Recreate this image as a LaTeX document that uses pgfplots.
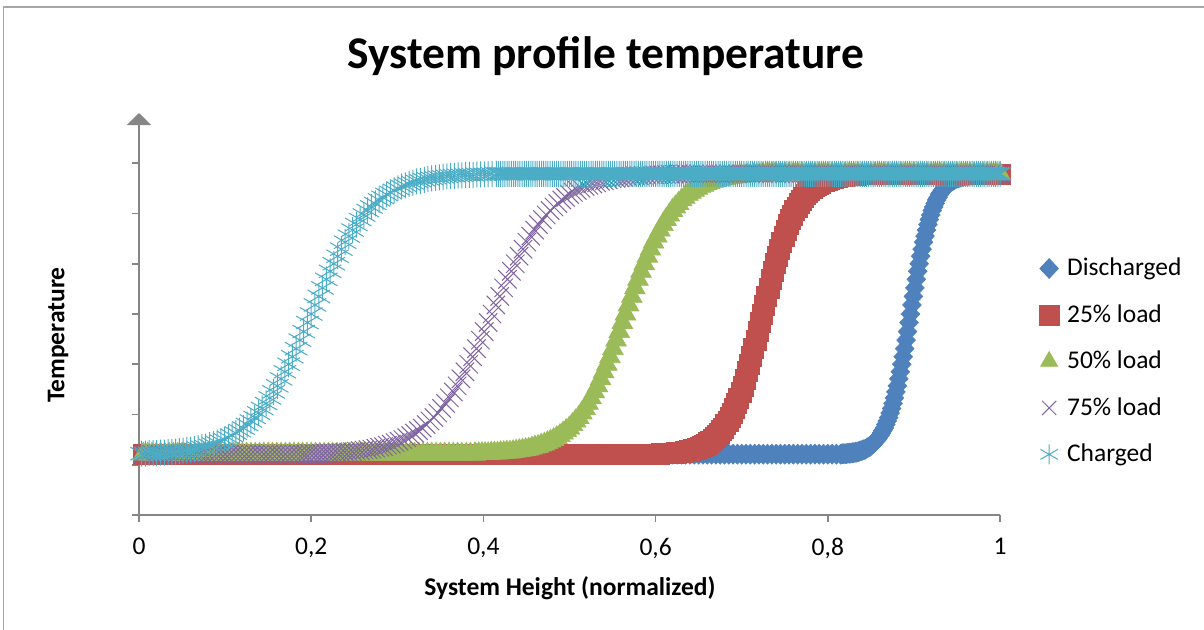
\documentclass[border=0pt]{standalone}
\usepackage{fontspec}
\setmainfont{Carlito}
\usepackage{pgfplots}
\pgfplotsset{compat=1.18}
\usepackage{pgfplotstable}
\usetikzlibrary{arrows.meta}

\definecolor{cD}{HTML}{4F81BD}
\definecolor{cR}{HTML}{C0504D}
\definecolor{cG}{HTML}{9BBB59}
\definecolor{cP}{HTML}{8064A2}
\definecolor{cC}{HTML}{4BACC6}
\definecolor{axgray}{HTML}{868686}

% transition part of each profile: temperature (y) and height for each series
\pgfplotstableread{
y xD xR xG xP xC
1.21 0.8150 0.604 0.3910 0.194 -0.0100
1.22 0.8184 0.609 0.3983 0.203 -0.0013
1.22 0.8218 0.614 0.4055 0.212 0.0075
1.23 0.8251 0.619 0.4128 0.221 0.0163
1.24 0.8285 0.624 0.4200 0.230 0.0250
1.25 0.8319 0.629 0.4273 0.239 0.0338
1.26 0.8353 0.634 0.4345 0.248 0.0425
1.28 0.8386 0.639 0.4418 0.257 0.0513
1.30 0.8420 0.644 0.4490 0.266 0.0600
1.33 0.8454 0.649 0.4563 0.275 0.0688
1.36 0.8488 0.654 0.4635 0.284 0.0775
1.41 0.8521 0.659 0.4708 0.293 0.0863
1.47 0.8555 0.664 0.4780 0.302 0.0950
1.54 0.8589 0.669 0.4853 0.311 0.1038
1.63 0.8623 0.674 0.4925 0.320 0.1125
1.73 0.8656 0.679 0.4998 0.329 0.1213
1.87 0.8690 0.684 0.5070 0.338 0.1300
2.03 0.8724 0.689 0.5143 0.347 0.1388
2.22 0.8758 0.694 0.5215 0.356 0.1475
2.45 0.8791 0.699 0.5288 0.365 0.1563
2.71 0.8825 0.704 0.5360 0.374 0.1650
3.00 0.8859 0.709 0.5433 0.383 0.1738
3.31 0.8893 0.714 0.5505 0.392 0.1825
3.65 0.8926 0.719 0.5578 0.401 0.1913
4.00 0.8960 0.724 0.5650 0.410 0.2000
4.35 0.8994 0.729 0.5723 0.419 0.2088
4.69 0.9028 0.734 0.5795 0.428 0.2175
5.00 0.9061 0.739 0.5868 0.437 0.2263
5.29 0.9095 0.744 0.5940 0.446 0.2350
5.55 0.9129 0.749 0.6013 0.455 0.2438
5.78 0.9163 0.754 0.6085 0.464 0.2525
5.97 0.9196 0.759 0.6158 0.473 0.2613
6.13 0.9230 0.764 0.6230 0.482 0.2700
6.27 0.9264 0.769 0.6303 0.491 0.2788
6.38 0.9298 0.774 0.6375 0.500 0.2875
6.46 0.9331 0.779 0.6448 0.509 0.2963
6.54 0.9365 0.784 0.6520 0.518 0.3050
6.59 0.9399 0.789 0.6593 0.527 0.3138
6.64 0.9433 0.794 0.6665 0.536 0.3225
6.67 0.9466 0.799 0.6738 0.545 0.3313
6.70 0.9500 0.804 0.6810 0.554 0.3400
6.72 0.9534 0.809 0.6883 0.563 0.3488
6.74 0.9568 0.814 0.6955 0.572 0.3575
6.75 0.9601 0.819 0.7028 0.581 0.3663
6.76 0.9635 0.824 0.7100 0.590 0.3750
6.77 0.9669 0.829 0.7173 0.599 0.3838
6.78 0.9703 0.834 0.7245 0.608 0.3925
6.78 0.9736 0.839 0.7318 0.617 0.4013
6.79 0.9770 0.844 0.7390 0.626 0.4100
}\trans

% intermediate samples of the same transitions
\pgfplotstableread{
y xD xR xG xP xC
1.22 0.8167 0.6065 0.3946 0.1985 -0.0056
1.22 0.8201 0.6115 0.4019 0.2075 0.0031
1.23 0.8234 0.6165 0.4091 0.2165 0.0119
1.23 0.8268 0.6215 0.4164 0.2255 0.0206
1.24 0.8302 0.6265 0.4236 0.2345 0.0294
1.25 0.8336 0.6315 0.4309 0.2435 0.0381
1.27 0.8369 0.6365 0.4381 0.2525 0.0469
1.29 0.8403 0.6415 0.4454 0.2615 0.0556
1.31 0.8437 0.6465 0.4526 0.2705 0.0644
1.35 0.8471 0.6515 0.4599 0.2795 0.0731
1.39 0.8504 0.6565 0.4671 0.2885 0.0819
1.44 0.8538 0.6615 0.4744 0.2975 0.0906
1.50 0.8572 0.6665 0.4816 0.3065 0.0994
1.58 0.8606 0.6715 0.4889 0.3155 0.1081
1.68 0.8639 0.6765 0.4961 0.3245 0.1169
1.80 0.8673 0.6815 0.5034 0.3335 0.1256
1.94 0.8707 0.6865 0.5106 0.3425 0.1344
2.12 0.8741 0.6915 0.5179 0.3515 0.1431
2.33 0.8774 0.6965 0.5251 0.3605 0.1519
2.57 0.8808 0.7015 0.5324 0.3695 0.1606
2.85 0.8842 0.7065 0.5396 0.3785 0.1694
3.15 0.8876 0.7115 0.5469 0.3875 0.1781
3.48 0.8909 0.7165 0.5541 0.3965 0.1869
3.83 0.8943 0.7215 0.5614 0.4055 0.1956
4.18 0.8977 0.7265 0.5686 0.4145 0.2044
4.52 0.9011 0.7315 0.5759 0.4235 0.2131
4.85 0.9044 0.7365 0.5831 0.4325 0.2219
5.15 0.9078 0.7415 0.5904 0.4415 0.2306
5.43 0.9112 0.7465 0.5976 0.4505 0.2394
5.67 0.9146 0.7515 0.6049 0.4595 0.2481
5.88 0.9179 0.7565 0.6121 0.4685 0.2569
6.06 0.9213 0.7615 0.6194 0.4775 0.2656
6.20 0.9247 0.7665 0.6266 0.4865 0.2744
6.32 0.9281 0.7715 0.6339 0.4955 0.2831
6.42 0.9314 0.7765 0.6411 0.5045 0.2919
6.50 0.9348 0.7815 0.6484 0.5135 0.3006
6.56 0.9382 0.7865 0.6556 0.5225 0.3094
6.61 0.9416 0.7915 0.6629 0.5315 0.3181
6.65 0.9449 0.7965 0.6701 0.5405 0.3269
6.69 0.9483 0.8015 0.6774 0.5495 0.3356
6.71 0.9517 0.8065 0.6846 0.5585 0.3444
6.73 0.9551 0.8115 0.6919 0.5675 0.3531
6.75 0.9584 0.8165 0.6991 0.5765 0.3619
6.76 0.9618 0.8215 0.7064 0.5855 0.3706
6.77 0.9652 0.8265 0.7136 0.5945 0.3794
6.77 0.9686 0.8315 0.7209 0.6035 0.3881
6.78 0.9719 0.8365 0.7281 0.6125 0.3969
6.78 0.9753 0.8415 0.7354 0.6215 0.4056
}\transB

% flat parts (cold and hot plateau), sampled every 0.005
\pgfplotstableread{
x lo hi
0.005 1.21 6.79
0.010 1.21 6.79
0.015 1.21 6.79
0.020 1.21 6.79
0.025 1.21 6.79
0.030 1.21 6.79
0.035 1.21 6.79
0.040 1.21 6.79
0.045 1.21 6.79
0.050 1.21 6.79
0.055 1.21 6.79
0.060 1.21 6.79
0.065 1.21 6.79
0.070 1.21 6.79
0.075 1.21 6.79
0.080 1.21 6.79
0.085 1.21 6.79
0.090 1.21 6.79
0.095 1.21 6.79
0.100 1.21 6.79
0.105 1.21 6.79
0.110 1.21 6.79
0.115 1.21 6.79
0.120 1.21 6.79
0.125 1.21 6.79
0.130 1.21 6.79
0.135 1.21 6.79
0.140 1.21 6.79
0.145 1.21 6.79
0.150 1.21 6.79
0.155 1.21 6.79
0.160 1.21 6.79
0.165 1.21 6.79
0.170 1.21 6.79
0.175 1.21 6.79
0.180 1.21 6.79
0.185 1.21 6.79
0.190 1.21 6.79
0.195 1.21 6.79
0.200 1.21 6.79
0.205 1.21 6.79
0.210 1.21 6.79
0.215 1.21 6.79
0.220 1.21 6.79
0.225 1.21 6.79
0.230 1.21 6.79
0.235 1.21 6.79
0.240 1.21 6.79
0.245 1.21 6.79
0.250 1.21 6.79
0.255 1.21 6.79
0.260 1.21 6.79
0.265 1.21 6.79
0.270 1.21 6.79
0.275 1.21 6.79
0.280 1.21 6.79
0.285 1.21 6.79
0.290 1.21 6.79
0.295 1.21 6.79
0.300 1.21 6.79
0.305 1.21 6.79
0.310 1.21 6.79
0.315 1.21 6.79
0.320 1.21 6.79
0.325 1.21 6.79
0.330 1.21 6.79
0.335 1.21 6.79
0.340 1.21 6.79
0.345 1.21 6.79
0.350 1.21 6.79
0.355 1.21 6.79
0.360 1.21 6.79
0.365 1.21 6.79
0.370 1.21 6.79
0.375 1.21 6.79
0.380 1.21 6.79
0.385 1.21 6.79
0.390 1.21 6.79
0.395 1.21 6.79
0.400 1.21 6.79
0.405 1.21 6.79
0.410 1.21 6.79
0.415 1.21 6.79
0.420 1.21 6.79
0.425 1.21 6.79
0.430 1.21 6.79
0.435 1.21 6.79
0.440 1.21 6.79
0.445 1.21 6.79
0.450 1.21 6.79
0.455 1.21 6.79
0.460 1.21 6.79
0.465 1.21 6.79
0.470 1.21 6.79
0.475 1.21 6.79
0.480 1.21 6.79
0.485 1.21 6.79
0.490 1.21 6.79
0.495 1.21 6.79
0.500 1.21 6.79
0.505 1.21 6.79
0.510 1.21 6.79
0.515 1.21 6.79
0.520 1.21 6.79
0.525 1.21 6.79
0.530 1.21 6.79
0.535 1.21 6.79
0.540 1.21 6.79
0.545 1.21 6.79
0.550 1.21 6.79
0.555 1.21 6.79
0.560 1.21 6.79
0.565 1.21 6.79
0.570 1.21 6.79
0.575 1.21 6.79
0.580 1.21 6.79
0.585 1.21 6.79
0.590 1.21 6.79
0.595 1.21 6.79
0.600 1.21 6.79
0.605 1.21 6.79
0.610 1.21 6.79
0.615 1.21 6.79
0.620 1.21 6.79
0.625 1.21 6.79
0.630 1.21 6.79
0.635 1.21 6.79
0.640 1.21 6.79
0.645 1.21 6.79
0.650 1.21 6.79
0.655 1.21 6.79
0.660 1.21 6.79
0.665 1.21 6.79
0.670 1.21 6.79
0.675 1.21 6.79
0.680 1.21 6.79
0.685 1.21 6.79
0.690 1.21 6.79
0.695 1.21 6.79
0.700 1.21 6.79
0.705 1.21 6.79
0.710 1.21 6.79
0.715 1.21 6.79
0.720 1.21 6.79
0.725 1.21 6.79
0.730 1.21 6.79
0.735 1.21 6.79
0.740 1.21 6.79
0.745 1.21 6.79
0.750 1.21 6.79
0.755 1.21 6.79
0.760 1.21 6.79
0.765 1.21 6.79
0.770 1.21 6.79
0.775 1.21 6.79
0.780 1.21 6.79
0.785 1.21 6.79
0.790 1.21 6.79
0.795 1.21 6.79
0.800 1.21 6.79
0.805 1.21 6.79
0.810 1.21 6.79
0.815 1.21 6.79
0.820 1.21 6.79
0.825 1.21 6.79
0.830 1.21 6.79
0.835 1.21 6.79
0.840 1.21 6.79
0.845 1.21 6.79
0.850 1.21 6.79
0.855 1.21 6.79
0.860 1.21 6.79
0.865 1.21 6.79
0.870 1.21 6.79
0.875 1.21 6.79
0.880 1.21 6.79
0.885 1.21 6.79
0.890 1.21 6.79
0.895 1.21 6.79
0.900 1.21 6.79
0.905 1.21 6.79
0.910 1.21 6.79
0.915 1.21 6.79
0.920 1.21 6.79
0.925 1.21 6.79
0.930 1.21 6.79
0.935 1.21 6.79
0.940 1.21 6.79
0.945 1.21 6.79
0.950 1.21 6.79
0.955 1.21 6.79
0.960 1.21 6.79
0.965 1.21 6.79
0.970 1.21 6.79
0.975 1.21 6.79
0.980 1.21 6.79
0.985 1.21 6.79
0.990 1.21 6.79
0.995 1.21 6.79
1.000 1.21 6.79
}\flat

% extra samples of the charged hot plateau
\pgfplotstableread{
x hi
0.4175 6.79
0.4225 6.79
0.4275 6.79
0.4325 6.79
0.4375 6.79
0.4425 6.79
0.4475 6.79
0.4525 6.79
0.4575 6.79
0.4625 6.79
0.4675 6.79
0.4725 6.79
0.4775 6.79
0.4825 6.79
0.4875 6.79
0.4925 6.79
0.4975 6.79
0.5025 6.79
0.5075 6.79
0.5125 6.79
0.5175 6.79
0.5225 6.79
0.5275 6.79
0.5325 6.79
0.5375 6.79
0.5425 6.79
0.5475 6.79
0.5525 6.79
0.5575 6.79
0.5625 6.79
0.5675 6.79
0.5725 6.79
0.5775 6.79
0.5825 6.79
0.5875 6.79
0.5925 6.79
0.5975 6.79
0.6025 6.79
0.6075 6.79
0.6125 6.79
0.6175 6.79
0.6225 6.79
0.6275 6.79
0.6325 6.79
0.6375 6.79
0.6425 6.79
0.6475 6.79
0.6525 6.79
0.6575 6.79
0.6625 6.79
0.6675 6.79
0.6725 6.79
0.6775 6.79
0.6825 6.79
0.6875 6.79
0.6925 6.79
0.6975 6.79
0.7025 6.79
0.7075 6.79
0.7125 6.79
0.7175 6.79
0.7225 6.79
0.7275 6.79
0.7325 6.79
0.7375 6.79
0.7425 6.79
0.7475 6.79
0.7525 6.79
0.7575 6.79
0.7625 6.79
0.7675 6.79
0.7725 6.79
0.7775 6.79
0.7825 6.79
0.7875 6.79
0.7925 6.79
0.7975 6.79
0.8025 6.79
0.8075 6.79
0.8125 6.79
0.8175 6.79
0.8225 6.79
0.8275 6.79
0.8325 6.79
0.8375 6.79
0.8425 6.79
0.8475 6.79
0.8525 6.79
0.8575 6.79
0.8625 6.79
0.8675 6.79
0.8725 6.79
0.8775 6.79
0.8825 6.79
0.8875 6.79
0.8925 6.79
0.8975 6.79
0.9025 6.79
0.9075 6.79
0.9125 6.79
0.9175 6.79
0.9225 6.79
0.9275 6.79
0.9325 6.79
0.9375 6.79
0.9425 6.79
0.9475 6.79
0.9525 6.79
0.9575 6.79
0.9625 6.79
0.9675 6.79
0.9725 6.79
0.9775 6.79
0.9825 6.79
0.9875 6.79
0.9925 6.79
0.9975 6.79
}\flatC

\pgfplotsset{
  sD/.style={cD, only marks, mark=diamond*, mark size=5bp, mark options={xscale=1.25, line width=0.3bp}},
  sR/.style={cR, only marks, mark=square*, mark size=5bp, mark options={line width=0.3bp}},
  sG/.style={cG, only marks, mark=triangle*, mark size=6bp, mark options={line width=0.3bp}},
  sP/.style={cP, only marks, mark=x, mark size=6.5bp, mark options={line width=0.5bp}},
  sC/.style={cC, only marks, mark=asterisk, mark size=6.5bp, mark options={line width=0.5bp}},
}

\begin{document}
\begin{tikzpicture}
\begin{axis}[
  at={(69.5bp,57.5bp)}, anchor=south west,
  scale only axis, width=430.5bp, height=201bp,
  xmin=0, xmax=1, ymin=0, ymax=8,
  axis lines=left,
  axis line style={draw=axgray, line width=1bp},
  x axis line style={-},
  y axis line style={-{Triangle[width=12bp,length=6bp]}},
  xtick={0,0.2,0.4,0.6,0.8,1},
  ytick={0,1,2,3,4,5,6,7},
  yticklabels={},
  tick align=outside,
  major tick length=3.5bp,
  tick style={draw=axgray, line width=0.8bp},
  xticklabel style={font=\fontsize{12.8}{15}\selectfont, yshift=-4.5bp},
  /pgf/number format/use comma,
  /pgf/number format/assume math mode=true,
  clip=false,
  legend style={at={(1.045,0.382)}, anchor=west, draw=none, fill=none,
    font=\fontsize{12.8}{15}\selectfont, row sep=8.9bp, inner sep=0pt,
    /tikz/every odd column/.append style={column sep=2bp}},
  legend cell align=left,
  legend image post style={mark size=5bp},
]
% Discharged
\addplot[sD, forget plot, restrict x to domain=0:0.812] table[x=x, y=lo]{\flat};
\addplot[sD, forget plot, restrict x to domain=0.975:1.01] table[x=x, y=hi]{\flat};
\addplot[sD, forget plot] table[x=xD, y=y]{\transB};
\addplot[sD] table[x=xD, y=y]{\trans};
\addlegendentry{Discharged}
% 25% load
\addplot[sR, forget plot, restrict x to domain=0:0.602] table[x=x, y=lo]{\flat};
\addplot[sR, forget plot, restrict x to domain=0.845:1.01] table[x=x, y=hi]{\flat};
\addplot[sR, forget plot] table[x=xR, y=y]{\transB};
\addplot[sR] table[x=xR, y=y]{\trans};
\addlegendentry{25\% load}
% 50% load
\addplot[sG, forget plot, restrict x to domain=0:0.392] table[x=x, y=lo]{\flat};
\addplot[sG, forget plot, restrict x to domain=0.735:1.01] table[x=x, y=hi]{\flat};
\addplot[sG, forget plot] table[x=xG, y=y]{\transB};
\addplot[sG] table[x=xG, y=y]{\trans};
\addlegendentry{50\% load}
% 75% load
\addplot[sP, forget plot, restrict x to domain=0:0.192] table[x=x, y=lo]{\flat};
\addplot[sP, forget plot, restrict x to domain=0.625:1.01] table[x=x, y=hi]{\flat};
\addplot[sP, forget plot] table[x=xP, y=y]{\transB};
\addplot[sP] table[x=xP, y=y]{\trans};
\addlegendentry{75\% load}
% Charged
\addplot[sC, forget plot, restrict x to domain=0.415:1.01] table[x=x, y=hi]{\flat};
\addplot[sC, forget plot] table[x=x, y=hi]{\flatC};
\addplot[sC, forget plot, restrict x to domain=0:1.01] table[x=xC, y=y]{\transB};
\addplot[sC, restrict x to domain=0:1.01] table[x=xC, y=y]{\trans};
\addlegendentry{Charged}
\end{axis}
\node[anchor=base, font=\fontsize{22.8}{27}\selectfont\bfseries] at (303bp,280.5bp) {System profile temperature};
\node[anchor=base, font=\fontsize{12.8}{15}\selectfont\bfseries] at (285bp,17.5bp) {System Height (normalized)};
\node[rotate=90, anchor=center, font=\fontsize{12.8}{15}\selectfont\bfseries] at (29bp,147.5bp) {Temperature};
\draw[black!35, line width=0.8bp] (1.7bp,0) -- (1.7bp,311.5bp) -- (602bp,311.5bp);
\pgfresetboundingbox
\path[use as bounding box] (0,0) rectangle (602bp,315bp);
\end{tikzpicture}
\end{document}
